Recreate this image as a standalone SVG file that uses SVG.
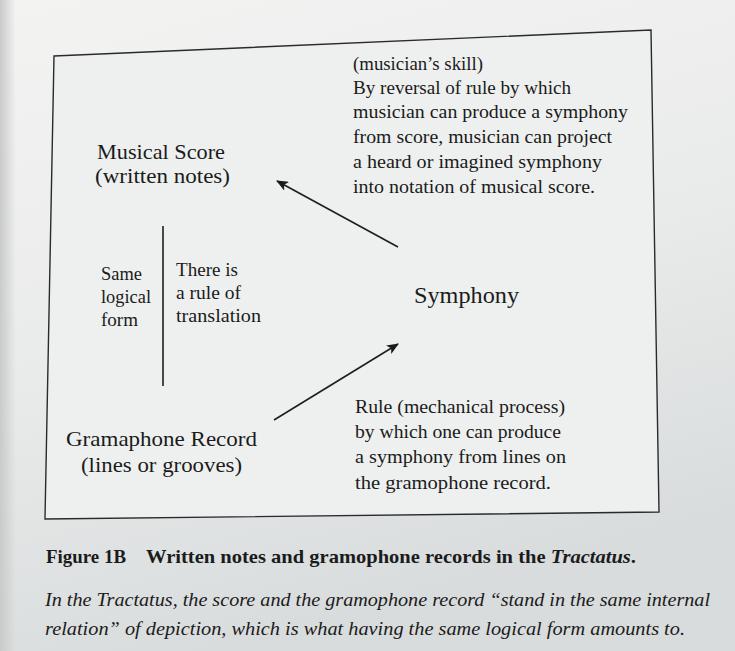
<svg xmlns="http://www.w3.org/2000/svg" width="735" height="651" viewBox="0 0 735 651">
<defs>
<linearGradient id="page" x1="0" y1="0" x2="0.3" y2="1">
<stop offset="0" stop-color="#f3f3f2"/>
<stop offset="0.55" stop-color="#e9ebea"/>
<stop offset="1" stop-color="#d9dcdd"/>
</linearGradient>
<linearGradient id="edge" x1="0" y1="0" x2="1" y2="0">
<stop offset="0" stop-color="#c9caca"/>
<stop offset="1" stop-color="#c9caca" stop-opacity="0"/>
</linearGradient>
<marker id="arr" viewBox="0 0 12 10" refX="11" refY="5" markerWidth="12" markerHeight="10" markerUnits="userSpaceOnUse" orient="auto">
<path d="M0,0 L12,5 L0,10 L3,5 Z" fill="#1a1a1a"/>
</marker>
<style>
text{font-family:"Liberation Serif","Times New Roman",serif;fill:#1b1b1b;}
.b{font-size:19px;}
.h{font-size:22px;}
.cap{font-size:19px;font-weight:bold;}
.it{font-size:19px;font-style:italic;}
.ln{stroke:#1e1e1e;stroke-width:1.6;fill:none;}
</style>
</defs>
<rect x="0" y="0" width="735" height="651" fill="url(#page)"/>
<rect x="0" y="0" width="16" height="651" fill="url(#edge)"/>
<polygon points="54,56 651,30 659,512 45,519" fill="#eef0ef" stroke="#2a2a2a" stroke-width="1.4"/>

<g id="skill-note">
<text class="b" x="353" y="70" textLength="130" lengthAdjust="spacingAndGlyphs">(musician’s skill)</text>
<text class="b" x="353" y="94" textLength="218" lengthAdjust="spacingAndGlyphs">By reversal of rule by which</text>
<text class="b" x="353" y="118" textLength="275" lengthAdjust="spacingAndGlyphs">musician can produce a symphony</text>
<text class="b" x="353" y="143" textLength="259" lengthAdjust="spacingAndGlyphs">from score, musician can project</text>
<text class="b" x="353" y="168" textLength="249" lengthAdjust="spacingAndGlyphs">a heard or imagined symphony</text>
<text class="b" x="353" y="193" textLength="242" lengthAdjust="spacingAndGlyphs">into notation of musical score.</text>
</g>

<g id="score">
<text class="h" x="97" y="159" textLength="128" lengthAdjust="spacingAndGlyphs">Musical Score</text>
<text class="h" x="95" y="183" textLength="135" lengthAdjust="spacingAndGlyphs">(written notes)</text>
</g>

<g id="form-labels">
<text class="b" x="101" y="280" textLength="41" lengthAdjust="spacingAndGlyphs">Same</text>
<text class="b" x="101" y="303" textLength="50" lengthAdjust="spacingAndGlyphs">logical</text>
<text class="b" x="101" y="326" textLength="37" lengthAdjust="spacingAndGlyphs">form</text>
<text class="b" x="176" y="276" textLength="62" lengthAdjust="spacingAndGlyphs">There is</text>
<text class="b" x="176" y="299" textLength="65" lengthAdjust="spacingAndGlyphs">a rule of</text>
<text class="b" x="176" y="322" textLength="85" lengthAdjust="spacingAndGlyphs">translation</text>
</g>

<g id="symphony">
<text class="h" x="414" y="303" textLength="105" lengthAdjust="spacingAndGlyphs" style="font-size:23px">Symphony</text>
</g>

<g id="record">
<text class="h" x="66" y="446" textLength="191" lengthAdjust="spacingAndGlyphs">Gramaphone Record</text>
<text class="h" x="81" y="472" textLength="161" lengthAdjust="spacingAndGlyphs">(lines or grooves)</text>
</g>

<g id="rule-note">
<text class="b" x="355" y="413" textLength="210" lengthAdjust="spacingAndGlyphs">Rule (mechanical process)</text>
<text class="b" x="355" y="438" textLength="206" lengthAdjust="spacingAndGlyphs">by which one can produce</text>
<text class="b" x="355" y="463" textLength="211" lengthAdjust="spacingAndGlyphs">a symphony from lines on</text>
<text class="b" x="355" y="489" textLength="196" lengthAdjust="spacingAndGlyphs">the gramophone record.</text>
</g>

<g id="connectors">
<line class="ln" x1="398" y1="247" x2="277" y2="181" marker-end="url(#arr)"/>
<line class="ln" x1="274" y1="420" x2="398" y2="344" marker-end="url(#arr)"/>
<line class="ln" x1="163" y1="226" x2="163" y2="386"/>
</g>

<g id="caption">
<text class="cap" x="46" y="563" textLength="80" lengthAdjust="spacingAndGlyphs">Figure 1B</text>
<text class="cap" x="146" y="563" textLength="490" lengthAdjust="spacingAndGlyphs">Written notes and gramophone records in the <tspan font-style="italic">Tractatus</tspan>.</text>
<text class="it" x="45" y="606" textLength="665" lengthAdjust="spacingAndGlyphs">In the Tractatus, the score and the gramophone record “stand in the same internal</text>
<text class="it" x="45" y="635" textLength="640" lengthAdjust="spacingAndGlyphs">relation” of depiction, which is what having the same logical form amounts to.</text>
</g>
</svg>
